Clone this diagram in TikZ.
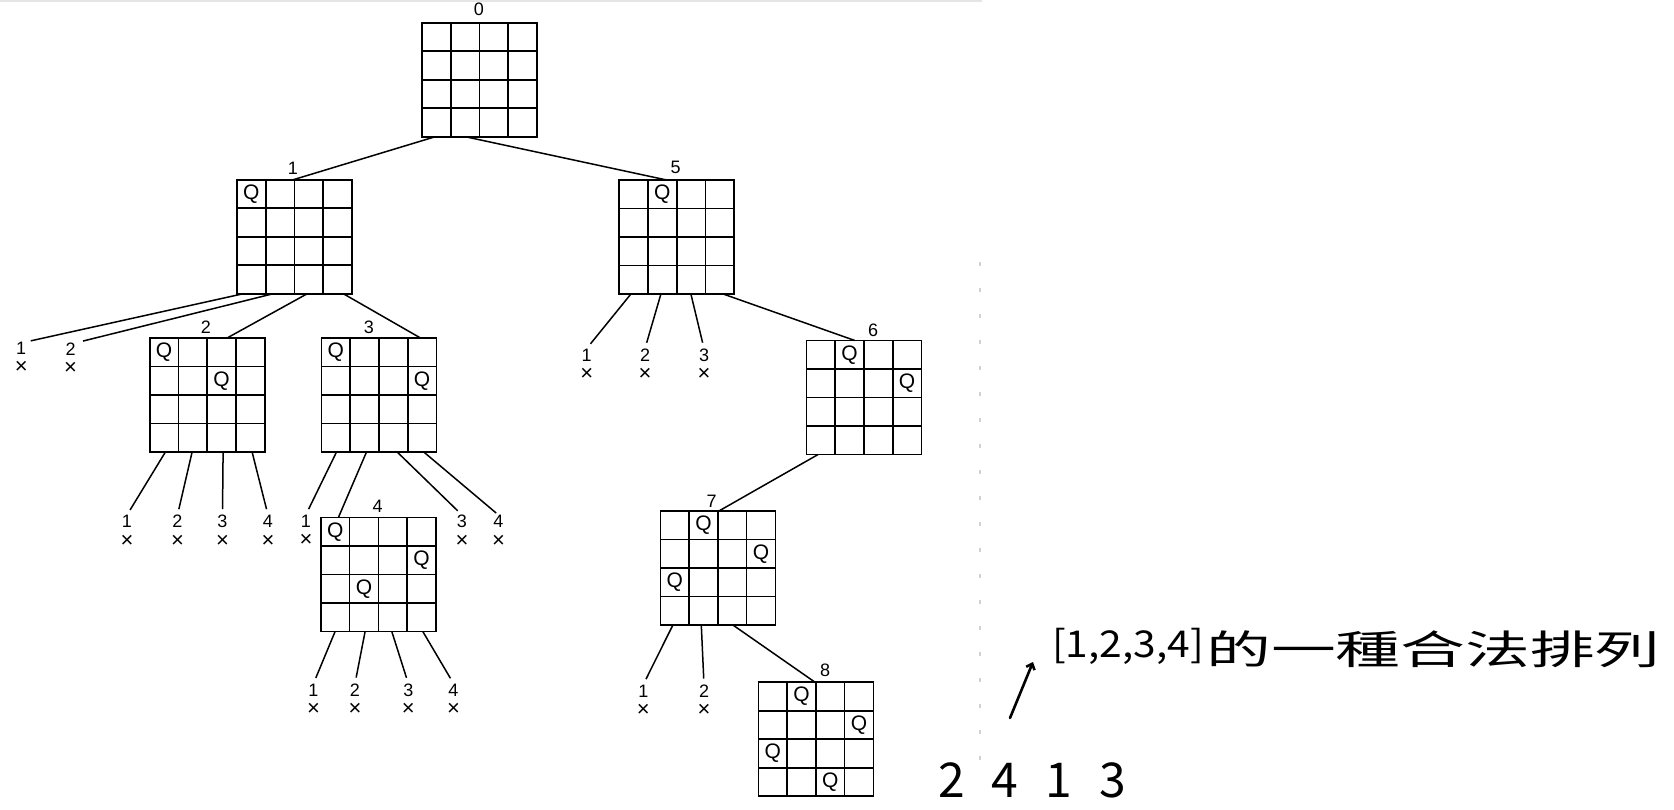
\documentclass[tikz,border=0pt]{standalone}
\usepackage{fontspec}
\setmainfont{Liberation Sans}
\newfontfamily\cjk{Noto Sans CJK TC}
\usetikzlibrary{calc,arrows.meta}
\newcommand\placeQ[3]{\node[queen] (q-#1-#2-#3) at ($(#1.north west)+({(#2-0.5)*28.75},{(#3-0.5)*28.5})$) {Q};}
\newcommand\crossmark{{\fontsize{22}{19.5}\selectfont ×}}
\begin{document}
\begin{tikzpicture}[x=1pt,y=-1pt,
  board/.style={draw, line width=1.6pt, minimum width=115pt, minimum height=114pt, inner sep=0pt, outer sep=0pt,
    path picture={
      \foreach \k in {1,2,3}{
        \draw[line width=1.6pt] ($(path picture bounding box.south west)!\k/4!(path picture bounding box.south east)$) -- ($(path picture bounding box.north west)!\k/4!(path picture bounding box.north east)$);
        \draw[line width=1.6pt] ($(path picture bounding box.south west)!\k/4!(path picture bounding box.north west)$) -- ($(path picture bounding box.south east)!\k/4!(path picture bounding box.north east)$);
      }}},
  queen/.style={inner sep=0pt, font=\fontsize{21}{21}\selectfont},
  num/.style={inner sep=0pt, font=\fontsize{18}{18}\selectfont},
  leaf/.style={inner sep=0pt, anchor=north, align=center, font=\fontsize{18}{19.5}\selectfont},
  edge/.style={line width=1.5pt},
  hw/.style={inner sep=0pt}
]
\useasboundingbox (0,0) rectangle (1674,809);
\fill[white] (0,0) rectangle (1674,809);
% faint scan artefacts
\draw[gray!20, line width=1.5pt] (0,1) -- (982,1);
\draw[gray!35, line width=1.2pt, dash pattern=on 4pt off 22pt] (980,262) -- (980,760);

% boards
\node[board] (b0) at (479.5,79.7) {};
\node[board] (b1) at (294.5,236.7) {};
\node[board] (b5) at (676.7,237) {};
\node[board] (b2) at (207.2,395) {};
\node[board] (b3) at (379,395) {};
\node[board] (b6) at (864,397.5) {};
\node[board] (b4) at (378.3,574.5) {};
\node[board] (b7) at (717.8,568) {};
\node[board] (b8) at (815.8,739.2) {};

% board numbers
\node[num] (t0) at (479,9) {0};
\node[num] (t1) at (293,168) {1};
\node[num] (t5) at (675.7,167.5) {5};
\node[num] (t2) at (206,327) {2};
\node[num] (t3) at (369,327) {3};
\node[num] (t6) at (873,330) {6};
\node[num] (t4) at (377.7,506) {4};
\node[num] (t7) at (711.7,501) {7};
\node[num] (t8) at (825,670) {8};

% queens
\placeQ{b1}{1}{1}
\placeQ{b5}{2}{1}
\placeQ{b2}{1}{1}\placeQ{b2}{3}{2}
\placeQ{b3}{1}{1}\placeQ{b3}{4}{2}
\placeQ{b6}{2}{1}\placeQ{b6}{4}{2}
\placeQ{b4}{1}{1}\placeQ{b4}{4}{2}\placeQ{b4}{2}{3}
\placeQ{b7}{2}{1}\placeQ{b7}{4}{2}\placeQ{b7}{1}{3}
\placeQ{b8}{2}{1}\placeQ{b8}{4}{2}\placeQ{b8}{1}{3}\placeQ{b8}{3}{4}

% dead-end leaves
\node[leaf] (A1) at (21.2,341.5) {1\\\crossmark};
\node[leaf] (A2) at (70.6,342.5) {2\\\crossmark};
\node[leaf] (E1) at (586.7,348.5) {1\\\crossmark};
\node[leaf] (E2) at (645,348.5) {2\\\crossmark};
\node[leaf] (E3) at (704,348.5) {3\\\crossmark};
\node[leaf] (B1) at (127,515) {1\\\crossmark};
\node[leaf] (B2) at (177.5,515) {2\\\crossmark};
\node[leaf] (B3) at (222.5,515) {3\\\crossmark};
\node[leaf] (B4) at (268,515) {4\\\crossmark};
\node[leaf] (C1) at (306,514.5) {1\\\crossmark};
\node[leaf] (C3) at (462,515) {3\\\crossmark};
\node[leaf] (C4) at (498.5,515) {4\\\crossmark};
\node[leaf] (D1) at (313.5,683.5) {1\\\crossmark};
\node[leaf] (D2) at (355,683.5) {2\\\crossmark};
\node[leaf] (D3) at (408.3,683.5) {3\\\crossmark};
\node[leaf] (D4) at (453.5,683.5) {4\\\crossmark};
\node[leaf] (G1) at (643.3,684.5) {1\\\crossmark};
\node[leaf] (G2) at (704,684.5) {2\\\crossmark};

% tree edges
\draw[edge] ($(b0.south west)+(13.3,0)$) -- ($(b1.north west)+(56.3,0)$);
\draw[edge] ($(b0.south west)+(43.3,0)$) -- ($(b5.north west)+(47.4,0)$);

\draw[edge, shorten >=3pt] ($(b1.south west)+(6.3,0)$) -- (A1.north east);
\draw[edge, shorten >=6pt] ($(b1.south west)+(36.3,0)$) -- (A2.north east);
\draw[edge] ($(b1.south west)+(70.3,0)$) -- ($(b2.north west)+(77.4,0)$);
\draw[edge] ($(b1.south west)+(106.3,0)$) -- ($(b3.north west)+(99,0)$);

\draw[edge, shorten >=6pt] ($(b5.south west)+(11.7,0)$) -- (E1.north);
\draw[edge, shorten >=6pt] ($(b5.south west)+(41.7,0)$) -- (E2.north);
\draw[edge, shorten >=6pt] ($(b5.south west)+(71.7,0)$) -- (E3.north);
\draw[edge] ($(b5.south west)+(104,0)$) -- ($(b6.north west)+(48.3,0)$);

\draw[edge, shorten >=6pt] ($(b2.south west)+(15.7,0)$) -- (B1.north);
\draw[edge, shorten >=6pt] ($(b2.south west)+(42.4,0)$) -- (B2.north);
\draw[edge, shorten >=6pt] ($(b2.south west)+(73.4,0)$) -- (B3.north);
\draw[edge, shorten >=6pt] ($(b2.south west)+(102.4,0)$) -- (B4.north);

\draw[edge, shorten >=6pt] ($(b3.south west)+(15,0)$) -- (C1.north);
\draw[edge] ($(b3.south west)+(45,0)$) -- ($(b4.north west)+(17.6,0)$);
\draw[edge, shorten >=6pt] ($(b3.south west)+(75.7,0)$) -- (C3.north);
\draw[edge, shorten >=3pt] ($(b3.south west)+(102.3,0)$) -- (C4.north);

\draw[edge, shorten >=6pt] ($(b4.south west)+(14.3,0)$) -- (D1.north);
\draw[edge, shorten >=6pt] ($(b4.south west)+(44.3,0)$) -- (D2.north);
\draw[edge, shorten >=6pt] ($(b4.south west)+(71,0)$) -- (D3.north);
\draw[edge, shorten >=6pt] ($(b4.south west)+(102,0)$) -- (D4.north);

\draw[edge] ($(b6.south west)+(11.6,0)$) -- ($(b7.north west)+(58.6,0)$);

\draw[edge, shorten >=6pt] ($(b7.south west)+(12.6,0)$) -- (G1.north);
\draw[edge, shorten >=6pt] ($(b7.south west)+(41,0)$) -- (G2.north);
\draw[edge] ($(b7.south west)+(72.6,0)$) -- ($(b8.north west)+(56.7,0)$);

% handwritten note
\node[hw, anchor=base west, font=\cjk\fontsize{37}{37}\selectfont] (h1) at (1052,657) {\scalebox{1.1}[1]{[1,2,3,4]}};
\node[hw, anchor=base west, font=\cjk\fontsize{40}{40}\selectfont] (h2) at (1206,664) {\scalebox{1.62}[1]{的一種合法排列}};
\node[hw, font=\cjk\fontsize{48}{48}\selectfont] (h3) at (1032,780) {2\hspace{27pt}4\hspace{27pt}1\hspace{27pt}3};
\coordinate (arS) at (1010,718);
\coordinate (arE) at (1033,662);
\draw[line width=2.6pt, line cap=round, -{Straight Barb[length=5pt,width=9pt]}] (arS) -- (arE);
\end{tikzpicture}
\end{document}
